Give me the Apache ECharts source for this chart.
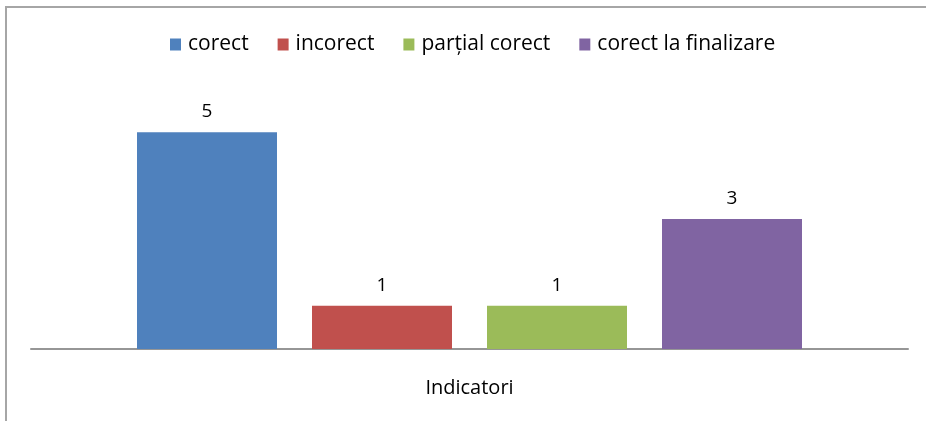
<!DOCTYPE html>
<html>
<head>
<meta charset="utf-8">
<script src="https://cdn.jsdelivr.net/npm/echarts@6/dist/echarts.min.js"></script>
<style>
html,body{margin:0;padding:0;background:#fff;}
#frame{position:absolute;left:5px;top:6px;width:940px;height:440px;border-left:2px solid #a6a6a6;border-top:2px solid #a6a6a6;}
#chart{position:absolute;left:0;top:0;width:926px;height:421px;}
</style>
</head>
<body>
<div id="frame"></div>
<div id="chart"></div>
<script>
const categories = ['Indicatori'];
const seriesNames = ['corect', 'incorect', 'parțial corect', 'corect la finalizare'];
const seriesValues = [[5], [1], [1], [3]];
const colors = ['#4f81bd', '#c0504d', '#9bbb59', '#8064a2'];

const chart = echarts.init(document.getElementById('chart'), null, {renderer: 'canvas'});
const font = 'Open Sans';
chart.setOption({
  animation: false,
  color: colors,
  legend: {
    top: 29,
    left: 165,
    itemWidth: 11,
    itemHeight: 12,
    itemGap: 29,
    icon: 'rect',
    textStyle: {fontFamily: font, fontSize: 21, color: '#000', padding: [0, 0, 0, 2]},
    data: seriesNames
  },
  grid: {left: 31, right: 18, top: 89, bottom: 72},
  xAxis: {
    type: 'category',
    data: categories,
    axisLine: {lineStyle: {color: '#969696', width: 2}},
    axisTick: {show: false},
    axisLabel: {fontFamily: font, fontSize: 20, color: '#000', margin: 29}
  },
  yAxis: {
    type: 'value', min: 0, max: 6, show: false, splitLine: {show: false}
  },
  series: seriesNames.map((name, i) => ({
    name: name,
    type: 'bar',
    data: seriesValues[i],
    barWidth: 140,
    barGap: '25%',
    label: {show: true, position: 'top', distance: 11, fontFamily: font, fontSize: 19, color: '#000'}
  }))
});
</script>
</body>
</html>
